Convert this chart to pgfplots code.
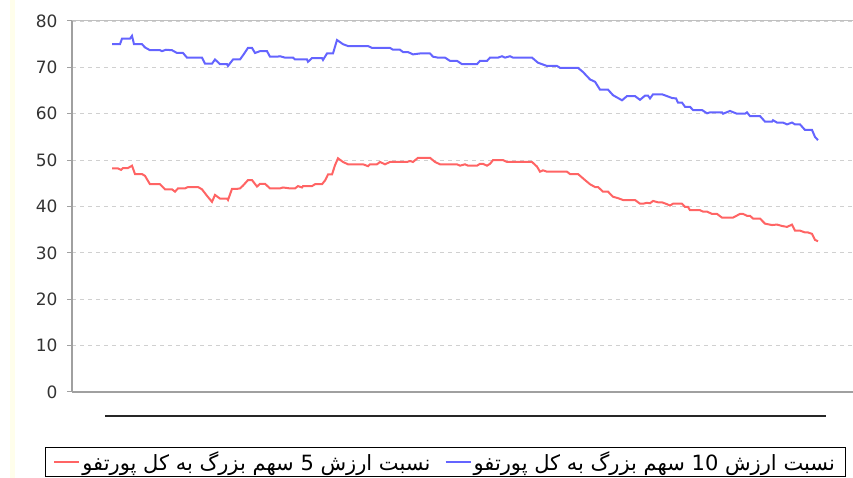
\documentclass[border=0pt]{standalone}
\usepackage{fontspec}
\setmainfont{DejaVu Sans}
\newfontfamily\arabicfont[Script=Arabic]{DejaVu Sans}
\TeXXeTstate=1
\usepackage{pgfplots}
\pgfplotsset{compat=1.18}
\definecolor{blueline}{HTML}{6464FF}
\definecolor{redline}{HTML}{FF6464}
\definecolor{axgray}{HTML}{A0A0A0}
\definecolor{gridgray}{HTML}{D0D0D0}
\begin{document}
\begin{tikzpicture}
\path[use as bounding box] (0,0) rectangle (853pt,478pt);
\fill[yellow!8] (10pt,0pt) rectangle (15pt,478pt);
\begin{axis}[
  at={(72pt,86pt)}, anchor=south west,
  scale only axis, width=781pt, height=371pt,
  xmin=72, xmax=853, ymin=0, ymax=80,
  ytick={0,10,...,80}, xtick=\empty,
  axis x line=bottom, axis y line=left,
  axis line style={-, axgray, line width=1.2pt},
  tick align=outside, major tick length=5pt,
  ytick style={axgray, line width=1pt},
  ymajorgrids, grid style={gridgray, line width=0.8pt, dash pattern=on 4pt off 4pt},
  /pgf/number format/assume math mode=true,
  yticklabel style={font=\fontsize{17}{19}\selectfont, text=black!80, xshift=-6pt},
  legend style={at={(axis description cs:-0.0346,-0.148)}, anchor=north west,
    draw=black, line width=0.8pt, font=\fontsize{21}{22}\selectfont,
    inner xsep=8pt, inner ysep=2.5pt},
  legend columns=2,
  legend cell align=left,
  /tikz/every even column/.append style={column sep=12pt},
  legend image code/.code={\draw[#1, line width=2pt] (0pt,0pt) -- (25pt,0pt);},
]
\addplot[redline, line width=2pt] coordinates {
(112,48.2)(118,48.2)(121,47.9)(123,48.3)(128,48.3)(132,48.8)(135,47.0)(142,47.0)
(145,46.6)(150,44.8)(160,44.8)(165,43.7)(172,43.7)(175,43.2)(178,43.9)(185,43.9)
(188,44.2)(198,44.2)(202,43.7)(207,42.3)(212,41.0)(215,42.5)(220,41.7)(227,41.7)
(228,41.4)(232,43.8)(237,43.8)(240,43.9)(243,44.5)(248,45.7)(252,45.7)(257,44.3)
(260,44.9)(265,44.9)(270,43.9)(280,43.9)(283,44.1)(290,43.9)(295,43.9)(298,44.4)
(302,44.1)(303,44.4)(312,44.4)(315,44.8)(322,44.8)(325,45.6)(328,46.9)(332,46.9)
(335,48.9)(338,50.4)(343,49.6)(348,49.1)(363,49.1)(368,48.7)(370,49.1)(377,49.1)
(380,49.6)(385,49.1)(390,49.6)(407,49.6)(410,49.8)(413,49.6)(418,50.5)(430,50.5)
(435,49.6)(440,49.1)(457,49.1)(460,48.8)(465,49.1)(468,48.8)(477,48.8)(480,49.2)
(483,49.2)(487,48.8)(490,49.2)(493,50.0)(503,50.0)(507,49.6)(532,49.6)(537,48.6)
(540,47.5)(543,47.8)(547,47.5)(567,47.5)(570,47.0)(578,47.0)(585,45.7)(590,44.8)
(595,44.2)(598,44.2)(603,43.2)(608,43.2)(613,42.1)(618,41.8)(623,41.4)(635,41.4)
(640,40.6)(643,40.6)(647,40.8)(650,40.7)(653,41.2)(658,40.9)(662,40.9)(667,40.5)
(670,40.2)(673,40.6)(682,40.6)(685,39.9)(688,39.9)(690,39.2)(700,39.2)(703,38.9)
(707,38.9)(712,38.4)(717,38.4)(722,37.6)(728,37.6)(733,37.6)(740,38.4)(743,38.4)
(747,38.0)(750,38.0)(753,37.4)(760,37.4)(765,36.3)(772,36.0)(777,36.1)(782,35.8)
(787,35.6)(792,36.1)(795,34.8)(800,34.8)(805,34.4)(808,34.4)(812,34.1)(815,32.8)
(818,32.5)
};
\addlegendentry{\arabicfont\beginR نسبت ارزش 5 سهم بزرگ به کل پورتفو\endR}
\addplot[blueline, line width=2pt] coordinates {
(112,75.0)(120,75.0)(122,76.2)(130,76.2)(132,76.8)(134,75.0)(142,75.0)(145,74.3)
(150,73.7)(160,73.7)(162,73.5)(166,73.8)(172,73.7)(177,73.1)(183,73.1)(187,72.1)
(202,72.1)(205,70.8)(212,70.8)(215,71.7)(220,70.7)(227,70.7)(228,70.3)(233,71.7)
(240,71.7)(243,72.6)(248,74.2)(252,74.2)(255,73.1)(260,73.5)(267,73.5)(270,72.3)
(277,72.3)(280,72.4)(285,72.1)(293,72.1)(295,71.7)(307,71.7)(308,71.2)(312,72.0)
(322,72.0)(323,71.6)(327,73.0)(333,73.0)(337,75.9)(343,75.0)(348,74.6)(368,74.6)
(372,74.2)(390,74.2)(393,73.8)(400,73.8)(403,73.3)(408,73.3)(413,72.8)(420,73.0)
(430,73.0)(433,72.3)(438,72.1)(445,72.1)(450,71.4)(457,71.4)(462,70.7)(477,70.7)
(480,71.4)(487,71.4)(490,72.1)(498,72.1)(502,72.4)(505,72.1)(510,72.4)(513,72.1)
(532,72.1)(538,71.0)(547,70.3)(557,70.3)(560,69.9)(578,69.9)(583,69.0)(590,67.4)
(595,66.9)(600,65.2)(608,65.2)(613,64.0)(622,62.9)(627,63.8)(635,63.8)(640,63.0)
(645,63.9)(648,63.9)(650,63.3)(653,64.2)(662,64.2)(667,63.8)(672,63.4)(676,63.3)
(678,62.4)(682,62.4)(685,61.5)(690,61.5)(693,60.8)(702,60.8)(707,60.1)(710,60.3)
(722,60.3)(723,60.0)(730,60.6)(737,60.0)(745,60.0)(747,60.3)(750,59.5)(760,59.5)
(765,58.3)(772,58.3)(773,58.6)(777,58.1)(783,58.1)(787,57.7)(792,58.1)(795,57.7)
(800,57.7)(805,56.5)(812,56.5)(815,55.0)(818,54.3)
};
\addlegendentry{\arabicfont\beginR نسبت ارزش \beginL10\endL{} سهم بزرگ به کل پورتفو\endR}
\end{axis}
\draw[gridgray!80!gray, line width=1pt] (72pt,457pt) -- (853pt,457pt);
\draw[black!85, line width=2pt] (105pt,62pt) -- (826pt,62pt);
\end{tikzpicture}
\end{document}
